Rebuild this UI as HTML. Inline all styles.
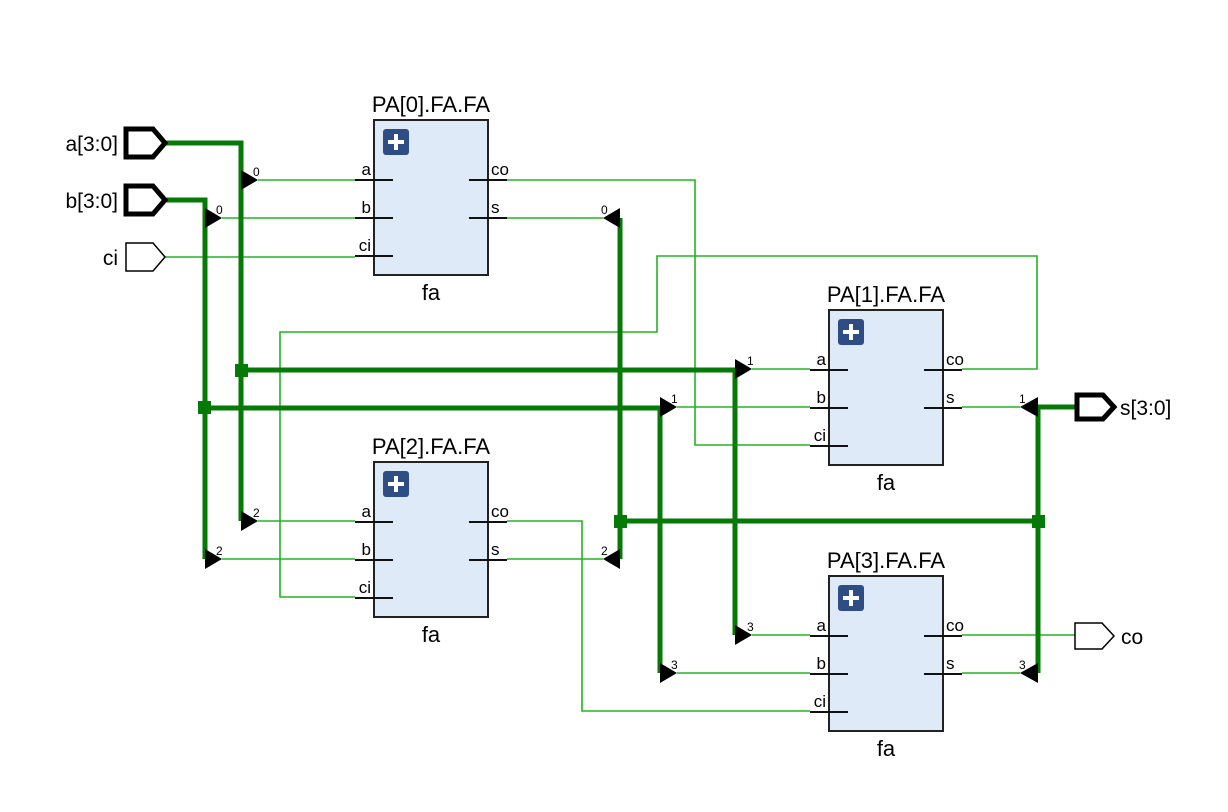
<!DOCTYPE html>
<html><head><meta charset="utf-8"><style>
html,body{margin:0;padding:0;background:#fff}
svg{display:block;font-family:"Liberation Sans",sans-serif}
</style></head><body>
<svg width="1228" height="812" viewBox="0 0 1228 812" xmlns="http://www.w3.org/2000/svg">
<defs>
<g id="blk">
<rect x="0" y="0" width="114" height="155" fill="#dfeaf8" stroke="#222" stroke-width="2"/>
<rect x="9" y="9" width="26" height="26" rx="3" fill="#2f4d85"/>
<path d="M22 14v16M14 22h16" stroke="#fff" stroke-width="4"/>
<path d="M-19 60h38M-19 98h38M-19 136h38M95 60h38M95 98h38" stroke="#111" stroke-width="2"/>
</g>
</defs>
<g fill="none" stroke="#22b522" stroke-width="1.6">
<path d="M165 257H355"/>
<path d="M258 180H355M222 218H355M507 218H603"/>
<path d="M258 521H355M222 559H355M507 559H603"/>
<path d="M752 369H810M677 407H810M962 407H1020"/>
<path d="M752 635H810M677 673H810M962 673H1020"/>
<path d="M507 180H695V445H810"/>
<path d="M962 369H1037V256H657V332H280V597H355"/>
<path d="M507 521H582V711H810"/>
<path d="M962 635H1075"/>
</g>
<g fill="none" stroke="#067a06" stroke-width="5">
<path d="M165 143H241V521"/>
<path d="M165 200H205V559"/>
<path d="M241 370H735V635"/>
<path d="M205 408H660V673"/>
<path d="M1075 407H1038V673"/>
<path d="M620 218V559M620 521H1038"/>
</g>
<g fill="#067a06">
<rect x="235" y="364" width="13" height="13"/>
<rect x="198" y="401" width="13" height="13"/>
<rect x="614" y="515" width="13" height="13"/>
<rect x="1032" y="515" width="13" height="13"/>
</g>
<g fill="#000">
<polygon points="241,170 258,180 241,190"/>
<polygon points="205,208 222,218 205,228"/>
<polygon points="620,208 603,218 620,228"/>
<polygon points="241,511 258,521 241,531"/>
<polygon points="205,549 222,559 205,569"/>
<polygon points="620,549 603,559 620,569"/>
<polygon points="735,359 752,369 735,379"/>
<polygon points="660,397 677,407 660,417"/>
<polygon points="1038,397 1020,407 1038,417"/>
<polygon points="735,625 752,635 735,645"/>
<polygon points="660,663 677,673 660,683"/>
<polygon points="1038,663 1020,673 1038,683"/>
</g>
<g font-size="12" fill="#000">
<text x="253" y="176">0</text><text x="216" y="214">0</text><text x="601" y="214">0</text>
<text x="253" y="517">2</text><text x="216" y="555">2</text><text x="601" y="555">2</text>
<text x="747" y="365">1</text><text x="671" y="403">1</text><text x="1019" y="403">1</text>
<text x="747" y="631">3</text><text x="671" y="669">3</text><text x="1019" y="669">3</text>
</g>
<g stroke="#000" fill="#fff">
<polygon points="126,129 153,129 165,143 153,157 126,157" stroke-width="5"/>
<polygon points="126,186 153,186 165,200 153,214 126,214" stroke-width="5"/>
<polygon points="126,243 153,243 165,257 153,271 126,271" stroke-width="1.5"/>
<polygon points="1077,395 1103,395 1114,407 1103,419 1077,419" stroke-width="5"/>
<polygon points="1075,623 1102,623 1114,636 1102,649 1075,649" stroke-width="1.5"/>
</g>
<g font-size="21" fill="#000">
<text x="118" y="151" text-anchor="end">a[3:0]</text>
<text x="118" y="208" text-anchor="end">b[3:0]</text>
<text x="118" y="265" text-anchor="end">ci</text>
<text x="1120" y="415">s[3:0]</text>
<text x="1121" y="644">co</text>
</g>
<use href="#blk" x="374" y="120"/>
<use href="#blk" x="829" y="310"/>
<use href="#blk" x="374" y="462"/>
<use href="#blk" x="829" y="576"/>
<g font-size="17" fill="#000">
<g transform="translate(374,120)"><text x="-3" y="55" text-anchor="end">a</text><text x="-3" y="93" text-anchor="end">b</text><text x="-3" y="131" text-anchor="end">ci</text><text x="117" y="55">co</text><text x="117" y="93">s</text><text x="57" y="-8" text-anchor="middle" font-size="22">PA[0].FA.FA</text><text x="57" y="180" text-anchor="middle" font-size="22">fa</text></g>
<g transform="translate(829,310)"><text x="-3" y="55" text-anchor="end">a</text><text x="-3" y="93" text-anchor="end">b</text><text x="-3" y="131" text-anchor="end">ci</text><text x="117" y="55">co</text><text x="117" y="93">s</text><text x="57" y="-8" text-anchor="middle" font-size="22">PA[1].FA.FA</text><text x="57" y="180" text-anchor="middle" font-size="22">fa</text></g>
<g transform="translate(374,462)"><text x="-3" y="55" text-anchor="end">a</text><text x="-3" y="93" text-anchor="end">b</text><text x="-3" y="131" text-anchor="end">ci</text><text x="117" y="55">co</text><text x="117" y="93">s</text><text x="57" y="-8" text-anchor="middle" font-size="22">PA[2].FA.FA</text><text x="57" y="180" text-anchor="middle" font-size="22">fa</text></g>
<g transform="translate(829,576)"><text x="-3" y="55" text-anchor="end">a</text><text x="-3" y="93" text-anchor="end">b</text><text x="-3" y="131" text-anchor="end">ci</text><text x="117" y="55">co</text><text x="117" y="93">s</text><text x="57" y="-8" text-anchor="middle" font-size="22">PA[3].FA.FA</text><text x="57" y="180" text-anchor="middle" font-size="22">fa</text></g>
</g>
</svg>
</body></html>
